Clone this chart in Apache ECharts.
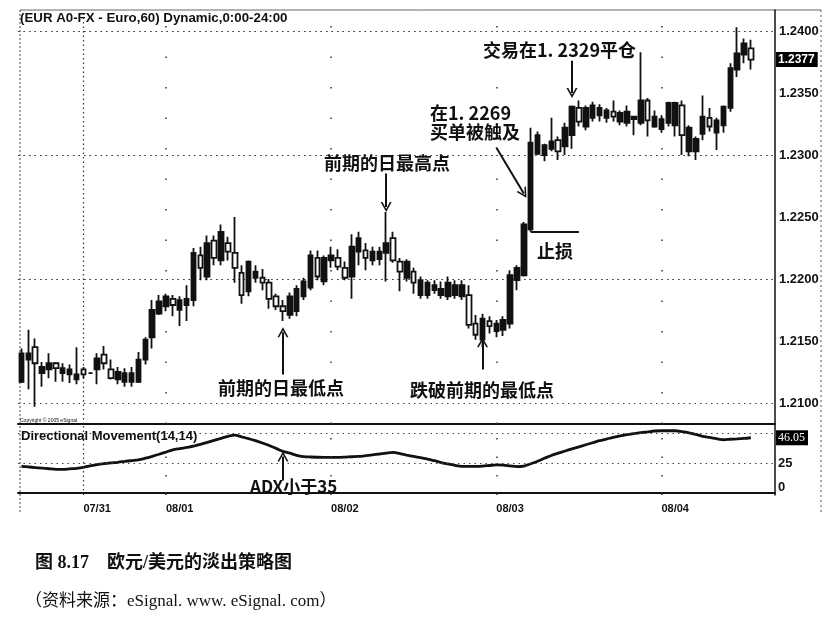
<!DOCTYPE html>
<html><head><meta charset="utf-8">
<script src="https://cdn.jsdelivr.net/npm/echarts@6/dist/echarts.min.js"></script>
<style>html,body{margin:0;padding:0;background:#fff}#c{width:836px;height:623px}</style>
</head><body><div id="c"></div>
<script>
// ---- session / axis labels ----
const dayLabels = ['07/29', '07/31', '08/01', '08/02', '08/03', '08/04'];
const dayStartIndex = [0, 9, 21, 45, 69, 93];
const dayStartHour = [15, 12, 0, 0, 0, 0];
const totalSlots = 110; // 107 hourly bars + empty slots to the right edge
const priceTicks = [1.2100, 1.2150, 1.2200, 1.2250, 1.2300, 1.2350, 1.2400];
const adxTicks = [0, 25];
const adxGrid = [25, 50];

// ---- hourly EUR/USD candles ----
const opens = [1.2117,1.2135,1.2145,1.2124,1.2127,1.2132,1.2124,1.2123,1.2119,1.2127,
1.2124,1.2127,1.2139,1.2127,1.2119,1.2117,1.2117,1.2117,1.2135,1.2153,
1.2172,1.2178,1.2184,1.2175,1.2179,1.2183,1.2219,1.2202,1.2231,1.2215,
1.2229,1.2221,1.2205,1.2190,1.2201,1.2201,1.2197,1.2186,1.2178,1.2171,
1.2174,1.2186,1.2193,1.2217,1.2198,1.2215,1.2217,1.2209,1.2202,1.2222,
1.2223,1.2215,1.2216,1.2221,1.2233,1.2214,1.2201,1.2206,1.2187,1.2187,
1.2191,1.2187,1.2186,1.2187,1.2186,1.2187,1.2164,1.2151,1.2166,1.2158,
1.2159,1.2164,1.2199,1.2203,1.2240,1.2301,1.2300,1.2305,1.2312,1.2307,
1.2316,1.2338,1.2323,1.2330,1.2332,1.2330,1.2335,1.2327,1.2326,1.2329,
1.2326,1.2344,1.2323,1.2321,1.2326,1.2324,1.2340,1.2303,1.2303,1.2317,
1.2330,1.2318,1.2324,1.2338,1.2369,1.2381,1.2386];
const closes = [1.2140,1.2140,1.2132,1.2129,1.2132,1.2128,1.2128,1.2127,1.2123,1.2123,
1.2124,1.2136,1.2132,1.2120,1.2125,1.2124,1.2124,1.2135,1.2151,1.2175,
1.2182,1.2186,1.2179,1.2183,1.2184,1.2221,1.2209,1.2229,1.2217,1.2238,
1.2222,1.2209,1.2187,1.2214,1.2206,1.2197,1.2184,1.2178,1.2174,1.2186,
1.2192,1.2198,1.2219,1.2202,1.2217,1.2219,1.2210,1.2201,1.2226,1.2233,
1.2217,1.2222,1.2222,1.2229,1.2215,1.2206,1.2214,1.2197,1.2199,1.2197,
1.2195,1.2192,1.2197,1.2195,1.2195,1.2163,1.2155,1.2168,1.2162,1.2164,
1.2167,1.2203,1.2209,1.2244,1.2310,1.2316,1.2308,1.2311,1.2303,1.2322,
1.2339,1.2327,1.2338,1.2340,1.2338,1.2336,1.2331,1.2334,1.2335,1.2331,
1.2344,1.2328,1.2331,1.2329,1.2342,1.2342,1.2316,1.2322,1.2313,1.2331,
1.2323,1.2328,1.2339,1.2370,1.2382,1.2390,1.2377];
const lows = [1.2116,1.2111,1.2097,1.2113,1.2120,1.2117,1.2117,1.2116,1.2115,1.2120,
1.2124,1.2115,1.2127,1.2119,1.2115,1.2113,1.2113,1.2116,1.2131,1.2144,
1.2171,1.2174,1.2170,1.2162,1.2166,1.2178,1.2199,1.2199,1.2211,1.2211,
1.2215,1.2197,1.2180,1.2186,1.2197,1.2191,1.2176,1.2175,1.2166,1.2168,
1.2170,1.2183,1.2191,1.2199,1.2195,1.2209,1.2207,1.2199,1.2184,1.2211,
1.2207,1.2211,1.2211,1.2198,1.2213,1.2190,1.2198,1.2188,1.2184,1.2184,
1.2188,1.2184,1.2183,1.2184,1.2183,1.2160,1.2151,1.2145,1.2156,1.2153,
1.2154,1.2160,1.2191,1.2202,1.2238,1.2300,1.2295,1.2303,1.2296,1.2300,
1.2305,1.2323,1.2320,1.2327,1.2327,1.2326,1.2327,1.2324,1.2323,1.2316,
1.2324,1.2315,1.2322,1.2318,1.2323,1.2315,1.2300,1.2299,1.2296,1.2312,
1.2319,1.2304,1.2318,1.2335,1.2363,1.2374,1.2369];
const highs = [1.2144,1.2159,1.2152,1.2133,1.2140,1.2133,1.2132,1.2131,1.2145,1.2129,
1.2124,1.2140,1.2146,1.2135,1.2129,1.2128,1.2129,1.2141,1.2153,1.2183,
1.2187,1.2188,1.2187,1.2186,1.2195,1.2225,1.2226,1.2235,1.2235,1.2244,
1.2234,1.2250,1.2211,1.2215,1.2211,1.2208,1.2200,1.2188,1.2183,1.2189,
1.2195,1.2201,1.2223,1.2223,1.2219,1.2226,1.2224,1.2214,1.2236,1.2238,
1.2229,1.2226,1.2226,1.2254,1.2238,1.2217,1.2216,1.2209,1.2202,1.2199,
1.2199,1.2198,1.2202,1.2199,1.2199,1.2195,1.2171,1.2172,1.2170,1.2167,
1.2170,1.2207,1.2211,1.2246,1.2322,1.2319,1.2309,1.2330,1.2315,1.2326,
1.2340,1.2344,1.2340,1.2343,1.2341,1.2338,1.2344,1.2336,1.2340,1.2331,
1.2383,1.2346,1.2336,1.2332,1.2343,1.2343,1.2344,1.2324,1.2315,1.2348,
1.2338,1.2330,1.2340,1.2374,1.2403,1.2394,1.2393];

// ---- Directional Movement (ADX 14,14) ----
const adx = [22.2,21.7,21.2,20.7,20.2,19.7,19.6,20.1,20.6,21.4,
22.6,23.7,24.5,25.1,25.6,26.3,27.0,27.6,29.0,30.6,
32.3,34.1,36.0,37.0,38.0,39.0,40.6,42.2,43.9,45.6,
47.3,48.3,46.8,45.3,43.7,41.7,39.6,37.2,34.7,33.2,
31.4,30.4,30.0,29.8,29.7,29.7,29.7,29.9,30.2,30.5,
31.1,31.8,32.5,33.3,33.9,32.8,31.6,30.5,29.4,28.3,
26.9,25.4,24.2,23.0,22.2,22.2,22.2,22.4,22.9,23.4,
23.3,22.6,22.0,22.4,24.4,26.5,28.9,31.3,33.2,35.0,
36.8,38.5,40.2,41.9,43.6,45.0,46.4,47.6,48.6,49.5,
50.3,51.0,51.7,51.9,51.9,51.9,51.2,50.2,48.8,47.3,
46.3,45.3,44.4,44.8,45.1,45.5,46.05];

// ---- build categories (hour slots) ----
const categories = [];
for (let i = 0; i < totalSlots; i++) {
  let d = 0;
  for (let k = 0; k < dayStartIndex.length; k++) if (i >= dayStartIndex[k]) d = k;
  const h = dayStartHour[d] + (i - dayStartIndex[d]);
  categories.push(dayLabels[d] + ' ' + String(h).padStart(2, '0') + ':00');
}
const labelIdx = dayStartIndex.slice(1);
const candleData = categories.map((c, i) => i < opens.length ? [opens[i], closes[i], lows[i], highs[i]] : '-');
const adxData = categories.map((c, i) => i < adx.length ? adx[i] : '-');
const emptyData = categories.map(() => '-');

const INK = '#111';
const dotted = { color: '#444', width: 1.2, type: [1.5, 4] };
const sparse = { color: '#333', width: 1.5, type: [1.5, 29] };
const hidden = { color: 'rgba(0,0,0,0)', width: 0 };
const chevron = 'path://M5,0 L10,10 L8.4,10 L5,3.2 L1.6,10 L0,10 Z';
const arrow = (x1, y1, x2, y2) => [
  { coord: [x1, y1], symbol: 'none', lineStyle: { color: INK, width: 2, type: 'solid' } },
  { coord: [x2, y2], symbol: chevron, symbolSize: [11, 10] }
];
const lastClose = closes[closes.length - 1];
const lastAdx = adx[adx.length - 1];
const cjk = '"Noto Sans CJK SC", sans-serif';
const txt = (x, y, text, font, align) => ({ type: 'text', x: x, y: y, z: 100,
  style: { text: text, font: font, fill: INK, textAlign: align || 'left', align: align || 'left',
           textVerticalAlign: 'middle', verticalAlign: 'middle' } });
const boxLabel = (fmt, family, weight) => ({ show: true, position: 'end', distance: 1, formatter: fmt,
  backgroundColor: '#000', color: '#fff', fontWeight: weight, fontSize: 12,
  fontFamily: family, padding: [2, 3, 1, 2] });

const option = {
  animation: false,
  backgroundColor: '#fff',
  grid: [
    { left: 18, top: 10, width: 757, height: 414 },
    { left: 18, top: 425, width: 757, height: 70 }
  ],
  xAxis: [
    { type: 'category', gridIndex: 0, data: categories, boundaryGap: true,
      axisLine: { show: true, lineStyle: { color: INK, width: 2 } },
      axisTick: { show: false }, axisLabel: { show: false }, splitLine: { show: false } },
    { type: 'category', gridIndex: 1, data: categories, boundaryGap: true,
      axisLine: { show: true, lineStyle: { color: INK, width: 2 } },
      axisTick: { show: false }, splitLine: { show: false },
      axisLabel: { show: true, interval: (idx) => labelIdx.indexOf(idx) >= 0,
        formatter: (v) => v.split(' ')[0], align: 'left', margin: 8,
        fontFamily: 'Liberation Sans, Arial', fontWeight: 'bold', fontSize: 11, color: INK } }
  ],
  yAxis: [
    { type: 'value', gridIndex: 0, position: 'right', min: 1.2083, max: 1.2417, scale: true,
      axisLine: { show: true, lineStyle: { color: INK, width: 1.5 } },
      axisTick: { show: false }, splitLine: { show: false },
      axisLabel: { customValues: priceTicks, formatter: (v) => v.toFixed(4), margin: 4,
        fontFamily: 'Liberation Sans, Arial', fontWeight: 'bold', fontSize: 13, color: INK },
      axisPointer: { show: true, value: lastClose, status: 'show', type: 'line', triggerTooltip: false,
        lineStyle: hidden,
        label: { show: true, formatter: (p) => Number(p.value).toFixed(4), margin: 1,
          backgroundColor: '#000', color: '#fff', fontWeight: 'bold', fontSize: 12,
          fontFamily: 'Liberation Sans, Arial', padding: [2, 3, 1, 2], borderRadius: 0 } } },
    { type: 'value', gridIndex: 1, position: 'right', min: -1.7, max: 56.7,
      axisLine: { show: true, lineStyle: { color: INK, width: 1.5 } },
      axisTick: { show: false }, splitLine: { show: false },
      axisLabel: { customValues: adxTicks, margin: 3,
        formatter: (v) => v === 0 ? '{z|0}' : String(v),
        rich: { z: { padding: [0, 0, 12, 0], fontFamily: 'Liberation Sans, Arial', fontWeight: 'bold', fontSize: 13, color: INK } },
        fontFamily: 'Liberation Sans, Arial', fontWeight: 'bold', fontSize: 13, color: INK } }
  ],
  series: [
    { type: 'candlestick', name: 'EUR A0-FX', xAxisIndex: 0, yAxisIndex: 0, data: candleData,
      barWidth: 5,
      itemStyle: { color: INK, color0: '#fff', borderColor: INK, borderColor0: INK, borderWidth: 1.8 },
      markLine: { silent: true, symbol: 'none', label: { show: false }, z: 1,
        data: [
          ...priceTicks.map(v => ({ yAxis: v, lineStyle: dotted })),
          { xAxis: labelIdx[0], lineStyle: { color: '#333', width: 1.2, type: [1.5, 3] } },
          ...labelIdx.slice(1).map(i => ({ xAxis: i, lineStyle: sparse })),
          [ { coord: [74, 1.2238], lineStyle: { color: INK, width: 2.2, type: 'solid' } }, { coord: [80.5, 1.2238] } ],
          arrow(53, 1.2285, 53, 1.2258),
          arrow(80, 1.2376, 80, 1.2350),
          arrow(69.2, 1.2306, 72.5, 1.2269),
          arrow(38, 1.2123, 38, 1.2157),
          arrow(67, 1.2127, 67, 1.2149)
        ] } },
    { type: 'line', name: 'ADX', xAxisIndex: 1, yAxisIndex: 1, data: adxData, symbol: 'none', smooth: 0.3,
      lineStyle: { color: INK, width: 2.8 },
      markLine: { silent: true, symbol: 'none', label: { show: false },
        data: [
          ...adxGrid.map(v => ({ yAxis: v, lineStyle: dotted })),
          { xAxis: labelIdx[0], lineStyle: { color: '#333', width: 1.2, type: [1.5, 3] } },
          ...labelIdx.slice(1).map(i => ({ xAxis: i, lineStyle: { color: '#333', width: 1.5, type: [1.5, 17] } })),
          arrow(38, 10.5, 38, 30.5)
        ] } },
    { type: 'line', name: 'ADX last', xAxisIndex: 1, yAxisIndex: 1, data: emptyData, symbol: 'none',
      lineStyle: hidden,
      markLine: { silent: true, symbol: 'none', z: 10,
        data: [ { yAxis: lastAdx, lineStyle: hidden,
          label: boxLabel(() => lastAdx.toFixed(2), 'Liberation Serif, serif', 'normal') } ] } }
  ],
  graphic: [
    { type: 'line', shape: { x1: 20, y1: 10, x2: 821, y2: 10 }, style: { stroke: '#666', lineWidth: 1 } },
    { type: 'line', shape: { x1: 20, y1: 10, x2: 20, y2: 512 }, style: { stroke: '#444', lineWidth: 1, lineDash: [2, 2] } },
    { type: 'line', shape: { x1: 821, y1: 10, x2: 821, y2: 512 }, style: { stroke: '#555', lineWidth: 1, lineDash: [2, 3] } },
    txt(20, 18, '(EUR A0-FX - Euro,60) Dynamic,0:00-24:00', 'bold 13.3px "Liberation Sans", Arial'),
    txt(20, 421, 'Copyright © 2005 eSignal.', '5px "Liberation Sans", Arial'),
    txt(21, 436, 'Directional Movement(14,14)', 'bold 13px "Liberation Sans", Arial'),
    txt(387, 163, '前期的日最高点', 'bold 18px ' + cjk, 'center'),
    txt(483, 50, '交易在1. 2329平仓', 'bold 18px ' + cjk),
    txt(430, 113, '在1. 2269', 'bold 18px ' + cjk),
    txt(430, 132, '买单被触及', 'bold 18px ' + cjk),
    txt(537, 251, '止损', 'bold 18px ' + cjk),
    txt(218, 388, '前期的日最低点', 'bold 18px ' + cjk),
    txt(410, 390, '跌破前期的最低点', 'bold 18px ' + cjk),
    txt(250, 487, 'ADX小于35', 'bold 17px ' + cjk),
    txt(35, 563, '图 8.17　欧元/美元的淡出策略图', 'bold 18px "Liberation Serif", ' + cjk),
    txt(25, 602, '（资料来源：eSignal. www. eSignal. com）', '17px "Liberation Serif", ' + cjk)
  ]
};
const chart = echarts.init(document.getElementById('c'), null, { renderer: 'canvas' });
chart.setOption(option);
</script>
</body></html>
